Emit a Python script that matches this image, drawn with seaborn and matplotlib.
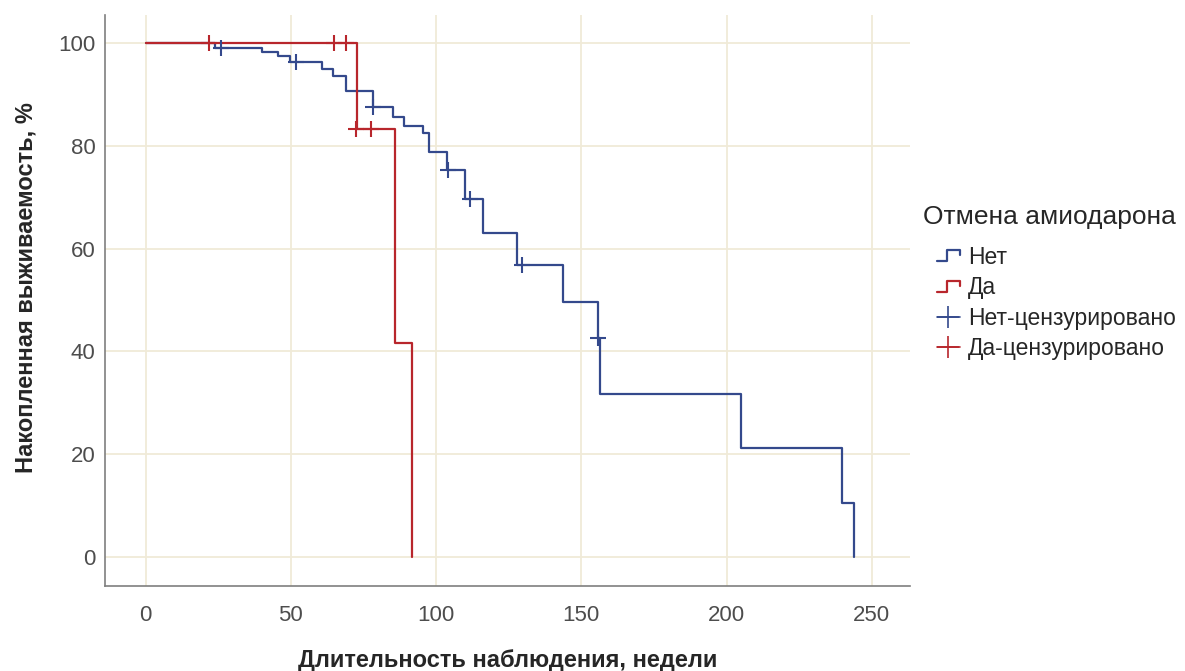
import numpy as np
import pandas as pd
import matplotlib
matplotlib.use("Agg")
import matplotlib.pyplot as plt
from matplotlib.lines import Line2D
from matplotlib.legend_handler import HandlerBase
import seaborn as sns

sns.set_theme(style="white")
plt.rcParams['font.family'] = ['Liberation Sans', 'DejaVu Sans']

# Kaplan-Meier steps (weeks, % survival after the step)
net_weeks = [0, 23.8, 39.9, 45.6, 49.7, 60.6, 64.6, 68.9, 78.1, 85.0, 88.9, 95.5, 97.5,
             103.9, 109.9, 116.0, 127.9, 143.7, 155.7, 156.4, 205.1, 239.8, 243.8]
net_surv = [100, 99.0, 98.2, 97.5, 96.4, 94.9, 93.5, 90.6, 87.5, 85.7, 83.9, 82.5, 78.8,
            75.3, 69.6, 63.1, 56.8, 49.7, 42.6, 31.8, 21.2, 10.6, 0]
da_weeks = [0, 72.9, 85.8, 91.6]
da_surv = [100, 83.3, 41.6, 0]

# censored observations
net_cens_weeks = [25.8, 51.9, 78.3, 104.0, 111.6, 129.6, 155.8]
net_cens_surv = [99.0, 96.4, 87.5, 75.3, 69.6, 56.8, 42.6]
da_cens_weeks = [21.8, 64.9, 68.8, 72.5, 77.7]
da_cens_surv = [100, 100, 100, 83.3, 83.3]

groups = ["Нет", "Да"]
colors = {"Нет": "#34498c", "Да": "#b8262c"}

curves = pd.DataFrame({
    "weeks": net_weeks + da_weeks,
    "surv": net_surv + da_surv,
    "group": ["Нет"] * len(net_weeks) + ["Да"] * len(da_weeks),
})
cens = pd.DataFrame({
    "weeks": net_cens_weeks + da_cens_weeks,
    "surv": net_cens_surv + da_cens_surv,
    "group": ["Нет"] * len(net_cens_weeks) + ["Да"] * len(da_cens_weeks),
})

fig = plt.figure(figsize=(11.85, 6.71), dpi=100)
ax = fig.add_axes([0.0886, 0.127, 0.679, 0.851])

for g in groups:
    sub = curves[curves.group == g]
    sns.lineplot(data=sub, x="weeks", y="surv", ax=ax, color=colors[g], lw=1.6,
                 drawstyle="steps-post", estimator=None, sort=False, legend=False)
    csub = cens[cens.group == g]
    ax.plot(csub.weeks, csub.surv, ls="none", marker="+", ms=12, mew=1.5,
            color=colors[g], zorder=3)

ax.set_xlim(-14, 263)
ax.set_ylim(-5.6, 105.5)
ax.set_xticks([0, 50, 100, 150, 200, 250])
ax.set_yticks([0, 20, 40, 60, 80, 100])
ax.grid(True, color="#f0ead8", lw=1.3)
ax.set_axisbelow(True)
for s in ["top", "right"]:
    ax.spines[s].set_visible(False)
for s in ["left", "bottom"]:
    ax.spines[s].set_color("#7f7f7f")
    ax.spines[s].set_linewidth(1.2)
ax.tick_params(axis="both", length=0, labelsize=16, labelcolor="#4d4d4d")
ax.tick_params(axis="x", pad=14)
ax.tick_params(axis="y", pad=7)

ax.set_xlabel("Длительность наблюдения, недели", fontsize=17, fontweight="bold")
ax.set_ylabel("Накопленная выживаемость, %", fontsize=17, fontweight="bold")
ax.xaxis.set_label_coords(0.5, -0.11)
ax.yaxis.set_label_coords(-0.084, 0.522)


class StepHandler(HandlerBase):
    def create_artists(self, legend, orig_handle, xdescent, ydescent, width, height,
                       fontsize, trans):
        x = np.array([0, 0.45, 0.45, 1.0, 1.0]) * width - xdescent
        y = np.array([0.15, 0.15, 0.85, 0.85, 0.55]) * height - ydescent
        line = Line2D(x, y, color=orig_handle.get_color(), lw=1.6, transform=trans)
        return [line]


step_net = Line2D([], [], color=colors["Нет"])
step_da = Line2D([], [], color=colors["Да"])
cross_net = Line2D([], [], color=colors["Нет"], lw=1.2, marker="+", ms=16, mew=1.2)
cross_da = Line2D([], [], color=colors["Да"], lw=1.2, marker="+", ms=16, mew=1.2)

leg = fig.legend([step_net, step_da, cross_net, cross_da],
                 ["Нет", "Да", "Нет-цензурировано", "Да-цензурировано"],
                 handler_map={step_net: StepHandler(), step_da: StepHandler()},
                 title="Отмена амиодарона", loc="upper left",
                 bbox_to_anchor=(0.771, 0.708), frameon=False, fontsize=16.5,
                 title_fontsize=19, handlelength=1.0, handletextpad=0.35,
                 labelspacing=0.33, borderaxespad=0)
leg._legend_box.align = "right"
leg._legend_box.sep = 12

fig.savefig("out.png", dpi=100)
